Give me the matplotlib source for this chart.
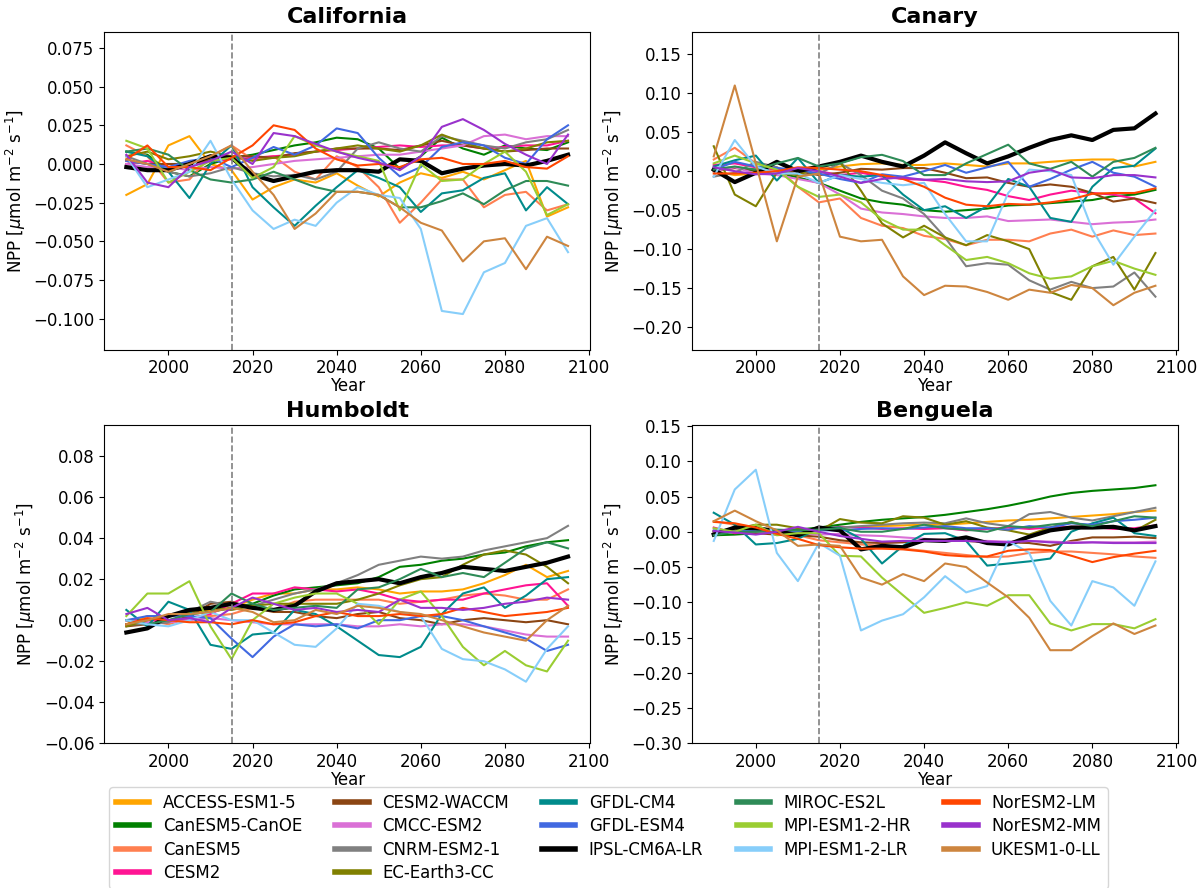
import numpy as np
import matplotlib
matplotlib.use('Agg')
import matplotlib.pyplot as plt
from matplotlib.ticker import MultipleLocator

years = [1990, 1995, 2000, 2005, 2010, 2015, 2020, 2025, 2030, 2035, 2040,
         2045, 2050, 2055, 2060, 2065, 2070, 2075, 2080, 2085, 2090, 2095]

models = ['ACCESS-ESM1-5', 'CanESM5-CanOE', 'CanESM5', 'CESM2', 'CESM2-WACCM',
          'CMCC-ESM2', 'CNRM-ESM2-1', 'EC-Earth3-CC', 'GFDL-CM4', 'GFDL-ESM4',
          'IPSL-CM6A-LR', 'MIROC-ES2L', 'MPI-ESM1-2-HR', 'MPI-ESM1-2-LR',
          'NorESM2-LM', 'NorESM2-MM', 'UKESM1-0-LL']
colors = ['orange', 'green', 'coral', 'deeppink', 'saddlebrown', 'orchid', 'gray',
          'olive', 'darkcyan', 'royalblue', 'black', 'seagreen', 'yellowgreen',
          'lightskyblue', 'orangered', 'darkorchid', 'peru']

california = {
    'ACCESS-ESM1-5': [-0.020, -0.013, 0.012, 0.018, 0.000, -0.004, -0.023, -0.015, -0.010, -0.012, -0.006, -0.014, -0.021, -0.012, -0.006, -0.009, -0.005, -0.010, -0.004, 0.002, -0.034, -0.028],
    'CanESM5-CanOE': [0.008, 0.006, -0.005, -0.008, 0.000, 0.004, 0.006, 0.009, 0.012, 0.014, 0.017, 0.016, 0.010, -0.003, 0.005, 0.017, 0.010, 0.006, 0.012, 0.010, 0.009, 0.014],
    'CanESM5': [0.012, 0.005, -0.012, -0.010, 0.005, 0.012, 0.003, 0.005, -0.005, -0.010, 0.005, -0.002, -0.015, -0.038, -0.025, -0.010, -0.010, -0.028, -0.020, -0.018, -0.030, -0.026],
    'CESM2': [0.000, 0.002, -0.002, 0.000, 0.002, 0.003, 0.004, 0.005, 0.006, 0.008, 0.009, 0.010, 0.011, 0.012, 0.011, 0.012, 0.012, 0.010, 0.011, 0.012, 0.012, 0.015],
    'CESM2-WACCM': [0.002, 0.000, 0.000, 0.000, 0.003, 0.005, 0.005, 0.004, 0.007, 0.008, 0.010, 0.010, 0.010, 0.009, 0.012, 0.015, 0.012, 0.010, 0.008, 0.009, 0.010, 0.010],
    'CMCC-ESM2': [0.000, -0.002, -0.002, -0.004, -0.002, -0.003, -0.002, 0.000, 0.002, 0.003, 0.004, 0.005, 0.006, 0.006, 0.008, 0.010, 0.012, 0.018, 0.019, 0.016, 0.018, 0.018],
    'CNRM-ESM2-1': [0.005, 0.000, -0.005, -0.008, -0.006, -0.002, -0.006, -0.008, -0.007, -0.010, -0.005, 0.010, 0.014, 0.010, 0.008, 0.018, 0.015, 0.012, 0.010, 0.014, 0.016, 0.022],
    'EC-Earth3-CC': [0.005, 0.008, 0.003, 0.005, 0.008, 0.005, 0.002, 0.004, 0.005, 0.008, 0.010, 0.012, 0.010, 0.008, 0.012, 0.019, 0.014, 0.010, 0.008, 0.010, 0.014, 0.015],
    'GFDL-CM4': [0.008, 0.005, -0.005, -0.022, 0.000, 0.012, -0.015, -0.028, -0.040, -0.027, -0.015, -0.004, -0.009, -0.015, -0.031, -0.019, -0.017, -0.009, -0.006, -0.030, -0.015, -0.026],
    'GFDL-ESM4': [0.002, 0.000, -0.002, 0.002, 0.004, -0.002, 0.004, 0.011, 0.006, 0.012, 0.023, 0.020, 0.004, -0.008, -0.002, 0.011, 0.014, 0.012, 0.004, 0.000, 0.016, 0.025],
    'IPSL-CM6A-LR': [-0.002, -0.004, -0.004, 0.000, 0.005, 0.004, -0.007, -0.011, -0.008, -0.005, -0.004, -0.004, -0.005, 0.003, 0.002, -0.006, -0.003, -0.001, 0.000, -0.001, 0.002, 0.006],
    'MIROC-ES2L': [0.008, 0.010, 0.006, -0.004, -0.010, -0.012, -0.010, -0.005, -0.010, -0.015, -0.018, -0.018, -0.020, -0.028, -0.028, -0.024, -0.019, -0.026, -0.017, -0.011, -0.011, -0.014],
    'MPI-ESM1-2-HR': [0.015, 0.010, -0.012, -0.005, 0.002, 0.004, -0.009, -0.002, 0.018, 0.012, 0.008, 0.005, 0.002, -0.030, 0.000, -0.011, -0.010, 0.000, 0.008, -0.005, -0.033, -0.026],
    'MPI-ESM1-2-LR': [0.005, -0.015, -0.010, -0.005, 0.015, -0.010, -0.030, -0.042, -0.036, -0.040, -0.025, -0.015, -0.020, -0.022, -0.042, -0.095, -0.097, -0.070, -0.064, -0.040, -0.035, -0.057],
    'NorESM2-LM': [0.003, 0.012, -0.002, -0.002, -0.004, 0.004, 0.012, 0.025, 0.022, 0.010, 0.003, -0.001, 0.000, -0.002, 0.003, 0.004, 0.000, 0.000, 0.002, -0.002, -0.003, 0.005],
    'NorESM2-MM': [0.006, -0.012, -0.015, -0.002, 0.002, 0.008, 0.000, 0.020, 0.018, 0.013, 0.008, 0.004, 0.001, -0.004, 0.005, 0.024, 0.029, 0.022, 0.013, 0.006, 0.000, 0.019],
    'UKESM1-0-LL': [0.003, 0.000, -0.005, 0.000, 0.005, 0.012, -0.005, -0.020, -0.042, -0.032, -0.018, -0.018, -0.020, -0.028, -0.038, -0.043, -0.063, -0.050, -0.048, -0.068, -0.047, -0.053],
}

canary = {
    'ACCESS-ESM1-5': [0.000, -0.005, -0.003, 0.000, 0.002, 0.002, 0.006, 0.009, 0.010, 0.008, 0.008, 0.010, 0.008, 0.006, 0.010, 0.010, 0.012, 0.014, 0.015, 0.015, 0.006, 0.012],
    'CanESM5-CanOE': [0.003, 0.005, 0.000, -0.002, -0.008, -0.015, -0.025, -0.035, -0.040, -0.043, -0.050, -0.052, -0.050, -0.048, -0.044, -0.043, -0.041, -0.039, -0.037, -0.032, -0.030, -0.024],
    'CanESM5': [0.015, 0.030, 0.010, 0.005, -0.020, -0.040, -0.035, -0.060, -0.070, -0.073, -0.083, -0.087, -0.095, -0.088, -0.088, -0.090, -0.080, -0.075, -0.084, -0.076, -0.082, -0.080],
    'CESM2': [0.008, 0.010, 0.005, 0.002, 0.004, 0.000, -0.005, -0.002, -0.007, -0.010, -0.011, -0.014, -0.020, -0.024, -0.032, -0.037, -0.030, -0.025, -0.028, -0.030, -0.035, -0.054],
    'CESM2-WACCM': [0.000, 0.004, 0.002, -0.002, 0.000, -0.005, -0.002, 0.003, 0.002, 0.004, 0.004, -0.002, -0.009, -0.008, -0.015, -0.020, -0.017, -0.020, -0.028, -0.039, -0.035, -0.041],
    'CMCC-ESM2': [0.000, 0.005, -0.003, -0.005, -0.010, -0.015, -0.030, -0.048, -0.053, -0.055, -0.058, -0.060, -0.060, -0.058, -0.064, -0.063, -0.062, -0.065, -0.068, -0.066, -0.065, -0.062],
    'CNRM-ESM2-1': [-0.007, -0.002, 0.012, 0.005, -0.006, -0.003, 0.010, -0.005, -0.025, -0.035, -0.055, -0.085, -0.122, -0.118, -0.120, -0.140, -0.152, -0.142, -0.150, -0.148, -0.130, -0.161],
    'EC-Earth3-CC': [0.032, -0.030, -0.045, -0.002, -0.005, 0.005, 0.012, -0.025, -0.067, -0.085, -0.070, -0.085, -0.095, -0.082, -0.090, -0.100, -0.155, -0.165, -0.122, -0.110, -0.152, -0.105],
    'GFDL-CM4': [0.006, 0.014, 0.020, -0.012, 0.017, -0.015, -0.005, -0.007, -0.005, -0.030, -0.050, -0.045, -0.060, -0.045, -0.010, -0.020, -0.060, -0.065, -0.020, 0.004, 0.007, 0.029],
    'GFDL-ESM4': [0.002, 0.012, 0.006, 0.004, 0.002, -0.003, -0.010, -0.015, -0.004, -0.007, 0.000, 0.008, -0.002, 0.005, 0.012, -0.020, -0.010, 0.002, 0.012, -0.002, -0.007, -0.020],
    'IPSL-CM6A-LR': [0.002, -0.014, -0.002, 0.012, 0.000, 0.006, 0.012, 0.020, 0.012, 0.006, 0.020, 0.037, 0.023, 0.010, 0.019, 0.030, 0.040, 0.046, 0.040, 0.053, 0.055, 0.074],
    'MIROC-ES2L': [0.002, 0.006, 0.002, 0.010, 0.017, 0.006, 0.010, 0.018, 0.021, 0.013, -0.005, -0.005, 0.010, 0.022, 0.034, 0.010, 0.003, 0.012, -0.007, 0.012, 0.017, 0.030],
    'MPI-ESM1-2-HR': [0.010, 0.020, 0.010, 0.002, -0.020, -0.033, -0.030, -0.040, -0.062, -0.075, -0.075, -0.095, -0.114, -0.110, -0.118, -0.131, -0.138, -0.135, -0.122, -0.115, -0.125, -0.133],
    'MPI-ESM1-2-LR': [-0.007, 0.040, 0.006, -0.003, -0.003, -0.015, -0.005, -0.010, -0.015, -0.018, -0.015, -0.055, -0.090, -0.090, -0.028, 0.002, 0.000, -0.005, -0.075, -0.120, -0.084, -0.050],
    'NorESM2-LM': [-0.003, -0.003, -0.002, 0.000, 0.005, 0.004, 0.002, 0.000, -0.005, -0.010, -0.020, -0.034, -0.043, -0.045, -0.042, -0.043, -0.040, -0.036, -0.029, -0.028, -0.028, -0.022],
    'NorESM2-MM': [0.005, 0.000, -0.004, -0.003, 0.004, 0.000, -0.007, -0.015, -0.010, -0.008, -0.011, -0.010, -0.013, -0.014, -0.013, -0.002, 0.002, -0.008, -0.009, -0.005, -0.005, -0.008],
    'UKESM1-0-LL': [0.019, 0.110, 0.010, -0.090, -0.007, -0.003, -0.084, -0.090, -0.088, -0.135, -0.159, -0.147, -0.148, -0.155, -0.165, -0.152, -0.156, -0.146, -0.150, -0.172, -0.156, -0.147],
}

humboldt = {
    'ACCESS-ESM1-5': [-0.002, 0.002, 0.002, 0.003, 0.005, 0.006, 0.010, 0.013, 0.013, 0.015, 0.015, 0.016, 0.015, 0.013, 0.014, 0.014, 0.015, 0.018, 0.022, 0.027, 0.021, 0.024],
    'CanESM5-CanOE': [-0.002, 0.000, 0.002, 0.003, 0.004, 0.006, 0.008, 0.012, 0.015, 0.016, 0.017, 0.018, 0.021, 0.026, 0.027, 0.029, 0.030, 0.032, 0.033, 0.036, 0.038, 0.039],
    'CanESM5': [0.000, 0.000, -0.002, 0.001, 0.002, 0.003, 0.006, 0.005, 0.009, 0.010, 0.010, 0.010, 0.010, 0.008, 0.009, 0.010, 0.012, 0.013, 0.012, 0.010, 0.010, 0.015],
    'CESM2': [0.000, 0.000, 0.000, 0.001, 0.003, 0.008, 0.013, 0.013, 0.016, 0.015, 0.014, 0.015, 0.013, 0.010, 0.009, 0.010, 0.010, 0.013, 0.015, 0.017, 0.018, 0.007],
    'CESM2-WACCM': [-0.003, -0.002, -0.001, 0.002, 0.008, 0.009, 0.006, 0.004, 0.004, 0.002, 0.001, 0.003, 0.004, 0.001, 0.000, -0.002, 0.000, 0.001, 0.000, -0.001, 0.000, -0.002],
    'CMCC-ESM2': [0.000, -0.001, -0.001, 0.000, 0.001, 0.000, -0.001, -0.002, -0.002, -0.002, -0.002, -0.003, -0.003, -0.002, -0.003, -0.002, -0.002, -0.003, -0.005, -0.007, -0.008, -0.008],
    'CNRM-ESM2-1': [-0.002, -0.002, -0.001, 0.004, 0.009, 0.007, 0.007, 0.010, 0.013, 0.015, 0.018, 0.022, 0.027, 0.029, 0.031, 0.030, 0.031, 0.034, 0.036, 0.038, 0.040, 0.046],
    'EC-Earth3-CC': [-0.003, 0.000, 0.002, 0.004, 0.006, 0.005, 0.007, 0.008, 0.008, 0.008, 0.008, 0.010, 0.013, 0.017, 0.020, 0.021, 0.027, 0.032, 0.034, 0.032, 0.026, 0.018],
    'GFDL-CM4': [0.005, -0.003, 0.009, 0.005, -0.012, -0.014, -0.007, -0.006, 0.005, 0.003, -0.003, -0.010, -0.017, -0.018, -0.013, 0.003, 0.013, 0.016, 0.006, 0.012, 0.020, 0.021],
    'GFDL-ESM4': [0.000, 0.002, 0.002, 0.002, 0.001, -0.009, -0.018, -0.008, -0.002, -0.003, -0.002, -0.004, 0.000, 0.000, 0.002, 0.002, 0.000, -0.003, -0.006, -0.009, -0.015, -0.012],
    'IPSL-CM6A-LR': [-0.006, -0.004, 0.002, 0.005, 0.006, 0.008, 0.006, 0.005, 0.007, 0.014, 0.018, 0.019, 0.020, 0.018, 0.021, 0.023, 0.026, 0.025, 0.024, 0.026, 0.028, 0.031],
    'MIROC-ES2L': [0.000, -0.002, 0.000, 0.003, 0.004, 0.013, 0.008, 0.005, 0.006, 0.007, 0.006, 0.015, 0.016, 0.020, 0.025, 0.021, 0.023, 0.021, 0.028, 0.035, 0.038, 0.035],
    'MPI-ESM1-2-HR': [0.002, 0.013, 0.013, 0.019, -0.003, -0.019, 0.000, 0.008, 0.011, 0.013, 0.013, 0.008, -0.002, 0.010, 0.014, 0.002, -0.013, -0.022, -0.015, -0.022, -0.025, -0.010],
    'MPI-ESM1-2-LR': [0.000, -0.002, -0.003, 0.000, 0.004, 0.000, 0.000, -0.006, -0.012, -0.013, -0.004, 0.008, 0.007, 0.004, 0.002, -0.014, -0.019, -0.020, -0.024, -0.030, -0.014, -0.003],
    'NorESM2-LM': [-0.002, 0.001, 0.000, -0.001, -0.001, -0.002, 0.000, -0.002, -0.001, 0.002, 0.004, 0.002, 0.002, 0.003, 0.002, 0.003, 0.006, 0.004, 0.002, 0.003, 0.004, 0.006],
    'NorESM2-MM': [0.003, 0.006, 0.000, 0.001, -0.001, 0.006, 0.011, 0.008, 0.005, 0.006, 0.004, 0.005, 0.004, 0.010, 0.006, 0.006, 0.005, 0.006, 0.008, 0.009, 0.011, 0.010],
    'UKESM1-0-LL': [-0.002, 0.000, 0.003, 0.003, 0.004, 0.006, 0.004, -0.001, 0.000, 0.005, 0.003, 0.007, 0.006, 0.004, 0.003, 0.000, -0.003, -0.006, -0.008, -0.010, 0.000, 0.007],
}

benguela = {
    'ACCESS-ESM1-5': [0.000, 0.002, 0.003, 0.002, 0.003, 0.004, 0.006, 0.007, 0.008, 0.009, 0.010, 0.010, 0.012, 0.014, 0.016, 0.017, 0.019, 0.021, 0.023, 0.025, 0.028, 0.030],
    'CanESM5-CanOE': [-0.005, -0.004, -0.002, 0.000, 0.003, 0.006, 0.010, 0.014, 0.017, 0.019, 0.021, 0.024, 0.028, 0.032, 0.037, 0.043, 0.050, 0.055, 0.058, 0.060, 0.062, 0.066],
    'CanESM5': [0.015, 0.010, 0.006, 0.001, -0.005, -0.012, -0.015, -0.018, -0.020, -0.024, -0.027, -0.030, -0.033, -0.036, -0.035, -0.030, -0.028, -0.028, -0.030, -0.032, -0.035, -0.037],
    'CESM2': [0.006, -0.002, 0.000, 0.002, 0.000, 0.003, 0.007, 0.006, 0.004, 0.005, 0.004, 0.005, 0.002, 0.004, 0.006, 0.004, 0.006, 0.007, 0.007, 0.004, 0.005, 0.009],
    'CESM2-WACCM': [0.000, 0.000, -0.002, -0.004, -0.005, -0.007, -0.012, -0.015, -0.016, -0.015, -0.012, -0.011, -0.013, -0.015, -0.015, -0.016, -0.020, -0.013, -0.008, -0.008, -0.007, -0.009],
    'CMCC-ESM2': [0.000, 0.002, 0.000, -0.002, -0.002, -0.004, -0.003, -0.005, -0.006, -0.008, -0.010, -0.012, -0.013, -0.013, -0.014, -0.013, -0.014, -0.015, -0.015, -0.015, -0.015, -0.014],
    'CNRM-ESM2-1': [0.000, 0.002, 0.000, -0.002, 0.000, 0.004, 0.006, 0.008, 0.010, 0.012, 0.013, 0.012, 0.019, 0.012, 0.008, 0.025, 0.028, 0.020, 0.016, 0.022, 0.028, 0.034],
    'EC-Earth3-CC': [0.001, 0.004, 0.010, 0.010, 0.005, 0.001, 0.018, 0.013, 0.012, 0.022, 0.020, 0.010, 0.015, 0.006, 0.002, -0.004, 0.006, 0.014, 0.006, 0.008, 0.001, 0.017],
    'GFDL-CM4': [0.027, 0.010, -0.018, -0.016, -0.010, 0.005, 0.006, -0.010, -0.045, -0.020, -0.003, -0.002, -0.013, -0.048, -0.045, -0.042, -0.038, 0.000, 0.012, 0.020, -0.002, -0.006],
    'GFDL-ESM4': [0.002, 0.000, 0.003, -0.002, 0.000, 0.002, 0.002, 0.004, 0.005, 0.004, 0.006, 0.008, 0.005, 0.005, 0.003, 0.008, 0.006, 0.012, 0.010, 0.015, 0.017, 0.020],
    'IPSL-CM6A-LR': [-0.004, 0.006, 0.005, 0.001, -0.005, 0.006, 0.002, -0.025, -0.020, -0.022, -0.012, -0.013, -0.008, -0.016, -0.018, -0.007, 0.002, 0.006, 0.006, 0.007, 0.002, 0.008],
    'MIROC-ES2L': [-0.005, 0.000, 0.000, 0.003, 0.002, 0.003, 0.005, 0.000, 0.000, 0.004, 0.010, 0.005, 0.003, 0.000, 0.008, 0.006, 0.010, 0.013, 0.008, 0.015, 0.022, 0.020],
    'MPI-ESM1-2-HR': [0.005, 0.000, 0.010, -0.005, -0.002, -0.002, -0.034, -0.035, -0.065, -0.090, -0.115, -0.108, -0.100, -0.105, -0.090, -0.090, -0.130, -0.140, -0.131, -0.131, -0.137, -0.124],
    'MPI-ESM1-2-LR': [-0.013, 0.060, 0.088, -0.030, -0.070, -0.016, -0.034, -0.140, -0.126, -0.117, -0.093, -0.063, -0.086, -0.077, -0.013, -0.030, -0.098, -0.133, -0.070, -0.079, -0.105, -0.042],
    'NorESM2-LM': [0.014, 0.012, 0.006, -0.003, -0.010, -0.019, -0.022, -0.024, -0.024, -0.025, -0.028, -0.033, -0.035, -0.035, -0.027, -0.025, -0.026, -0.034, -0.043, -0.036, -0.031, -0.027],
    'NorESM2-MM': [0.001, -0.001, -0.004, 0.000, 0.007, 0.000, -0.006, -0.010, -0.014, -0.013, -0.013, -0.013, -0.013, -0.014, -0.015, -0.013, -0.015, -0.016, -0.015, -0.016, -0.016, -0.016],
    'UKESM1-0-LL': [0.015, 0.030, 0.015, 0.002, -0.020, -0.018, -0.020, -0.065, -0.075, -0.060, -0.070, -0.045, -0.050, -0.072, -0.093, -0.122, -0.168, -0.168, -0.148, -0.130, -0.145, -0.133],
}

regions = ['California', 'Canary', 'Humboldt', 'Benguela']
region_data = [california, canary, humboldt, benguela]
ylims = [(-0.12, 0.0855), (-0.229, 0.179), (-0.06, 0.095), (-0.30, 0.151)]
ysteps = [0.025, 0.05, 0.02, 0.05]


fig, axes = plt.subplots(2, 2, figsize=(12.04, 8.88), dpi=100)
fig.subplots_adjust(left=0.0866, right=0.978, top=0.9643, bottom=0.163,
                    wspace=0.209, hspace=0.238)

for ax, name, data, ylim, step in zip(axes.flat, regions, region_data, ylims, ysteps):
    for model, color in zip(models, colors):
        lw = 3 if model == 'IPSL-CM6A-LR' else 1.5
        ax.plot(years, data[model], color=color, lw=lw, label=model)
    ax.axvline(2015, color='gray', linestyle='--', lw=1.2)
    ax.set_ylim(*ylim)
    ax.yaxis.set_major_locator(MultipleLocator(step))
    ax.set_title(name, fontsize=16, fontweight='bold')
    ax.set_xlabel('Year', fontsize=12, labelpad=0)
    ax.set_ylabel(r'NPP [$\mu$mol m$^{-2}$ s$^{-1}$]', fontsize=12)
    ax.tick_params(labelsize=12)

handles, labels = axes[0, 0].get_legend_handles_labels()
leg = fig.legend(handles, labels, loc='upper center', ncol=5, fontsize=12,
                 bbox_to_anchor=(0.5054, 0.119), columnspacing=2.0,
                 handlelength=2.0, labelspacing=0.32, borderaxespad=0.3)
for line in leg.get_lines():
    line.set_linewidth(4)

plt.savefig('out.png', dpi=100)
